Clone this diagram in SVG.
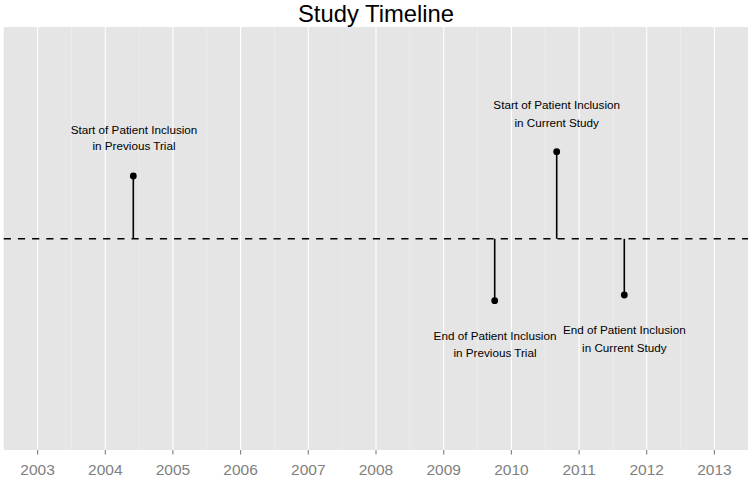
<svg xmlns="http://www.w3.org/2000/svg" width="753" height="479" viewBox="0 0 753 479">
<style>
.maj{stroke:#ffffff;stroke-width:1.1}
.min{stroke:#f2f2f2;stroke-width:0.55}
.tick{stroke:#7f7f7f;stroke-width:1.1}
.ax{font-family:"Liberation Sans",Arial,sans-serif;font-size:15.5px;fill:#7f7f7f;text-anchor:middle}
.lbl{font-family:"Liberation Sans",Arial,sans-serif;font-size:11.7px;fill:#000000;text-anchor:middle}
.stem{stroke:#000000;stroke-width:1.6}
</style>
<rect width="753" height="479" fill="#ffffff"/>
<text x="376" y="21.5" font-family="Liberation Sans, Arial, sans-serif" font-size="23.8" text-anchor="middle" fill="#000">Study Timeline</text>
<g id="panel">
<rect x="3.7" y="27" width="744.3" height="423" fill="#e5e5e5"/>
<g id="minor-grid">
<line class="min" x1="71.4" y1="27" x2="71.4" y2="450"/>
<line class="min" x1="139.1" y1="27" x2="139.1" y2="450"/>
<line class="min" x1="206.7" y1="27" x2="206.7" y2="450"/>
<line class="min" x1="274.4" y1="27" x2="274.4" y2="450"/>
<line class="min" x1="342.1" y1="27" x2="342.1" y2="450"/>
<line class="min" x1="409.8" y1="27" x2="409.8" y2="450"/>
<line class="min" x1="477.5" y1="27" x2="477.5" y2="450"/>
<line class="min" x1="545.2" y1="27" x2="545.2" y2="450"/>
<line class="min" x1="612.9" y1="27" x2="612.9" y2="450"/>
<line class="min" x1="680.6" y1="27" x2="680.6" y2="450"/>
</g>
<g id="major-grid">
<line class="maj" x1="37.6" y1="27" x2="37.6" y2="450"/>
<line class="maj" x1="105.3" y1="27" x2="105.3" y2="450"/>
<line class="maj" x1="172.9" y1="27" x2="172.9" y2="450"/>
<line class="maj" x1="240.6" y1="27" x2="240.6" y2="450"/>
<line class="maj" x1="308.3" y1="27" x2="308.3" y2="450"/>
<line class="maj" x1="376.0" y1="27" x2="376.0" y2="450"/>
<line class="maj" x1="443.7" y1="27" x2="443.7" y2="450"/>
<line class="maj" x1="511.4" y1="27" x2="511.4" y2="450"/>
<line class="maj" x1="579.1" y1="27" x2="579.1" y2="450"/>
<line class="maj" x1="646.7" y1="27" x2="646.7" y2="450"/>
<line class="maj" x1="714.4" y1="27" x2="714.4" y2="450"/>
</g>
</g>
<g id="axis">
<line class="tick" x1="37.6" y1="450" x2="37.6" y2="454.5"/>
<line class="tick" x1="105.3" y1="450" x2="105.3" y2="454.5"/>
<line class="tick" x1="172.9" y1="450" x2="172.9" y2="454.5"/>
<line class="tick" x1="240.6" y1="450" x2="240.6" y2="454.5"/>
<line class="tick" x1="308.3" y1="450" x2="308.3" y2="454.5"/>
<line class="tick" x1="376.0" y1="450" x2="376.0" y2="454.5"/>
<line class="tick" x1="443.7" y1="450" x2="443.7" y2="454.5"/>
<line class="tick" x1="511.4" y1="450" x2="511.4" y2="454.5"/>
<line class="tick" x1="579.1" y1="450" x2="579.1" y2="454.5"/>
<line class="tick" x1="646.7" y1="450" x2="646.7" y2="454.5"/>
<line class="tick" x1="714.4" y1="450" x2="714.4" y2="454.5"/>
<text class="ax" x="37.6" y="474.5">2003</text>
<text class="ax" x="105.3" y="474.5">2004</text>
<text class="ax" x="172.9" y="474.5">2005</text>
<text class="ax" x="240.6" y="474.5">2006</text>
<text class="ax" x="308.3" y="474.5">2007</text>
<text class="ax" x="376.0" y="474.5">2008</text>
<text class="ax" x="443.7" y="474.5">2009</text>
<text class="ax" x="511.4" y="474.5">2010</text>
<text class="ax" x="579.1" y="474.5">2011</text>
<text class="ax" x="646.7" y="474.5">2012</text>
<text class="ax" x="714.4" y="474.5">2013</text>
</g>
<g id="connectors">
<line x1="3.7" y1="238.8" x2="748" y2="238.8" stroke="#000" stroke-width="1.6" stroke-dasharray="7.2,7"/>
<line class="stem" x1="133.3" y1="176" x2="133.3" y2="238.8"/>
<line class="stem" x1="494.7" y1="238.8" x2="494.7" y2="300.7"/>
<line class="stem" x1="556.7" y1="151.7" x2="556.7" y2="238.8"/>
<line class="stem" x1="624.3" y1="238.8" x2="624.3" y2="295"/>
</g>
<g id="start-previous">
<circle cx="133.3" cy="176" r="3.4" fill="#000"/>
<text class="lbl" x="134" y="133.5">Start of Patient Inclusion</text>
<text class="lbl" x="134" y="150.2">in Previous Trial</text>
</g>
<g id="end-previous">
<circle cx="494.7" cy="300.7" r="3.4" fill="#000"/>
<text class="lbl" x="495" y="340.2">End of Patient Inclusion</text>
<text class="lbl" x="495" y="356.9">in Previous Trial</text>
</g>
<g id="start-current">
<circle cx="556.7" cy="151.7" r="3.4" fill="#000"/>
<text class="lbl" x="556.7" y="109.2">Start of Patient Inclusion</text>
<text class="lbl" x="556.7" y="126.5">in Current Study</text>
</g>
<g id="end-current">
<circle cx="624.3" cy="295" r="3.4" fill="#000"/>
<text class="lbl" x="624.3" y="334.2">End of Patient Inclusion</text>
<text class="lbl" x="624.3" y="351.5">in Current Study</text>
</g>
</svg>
